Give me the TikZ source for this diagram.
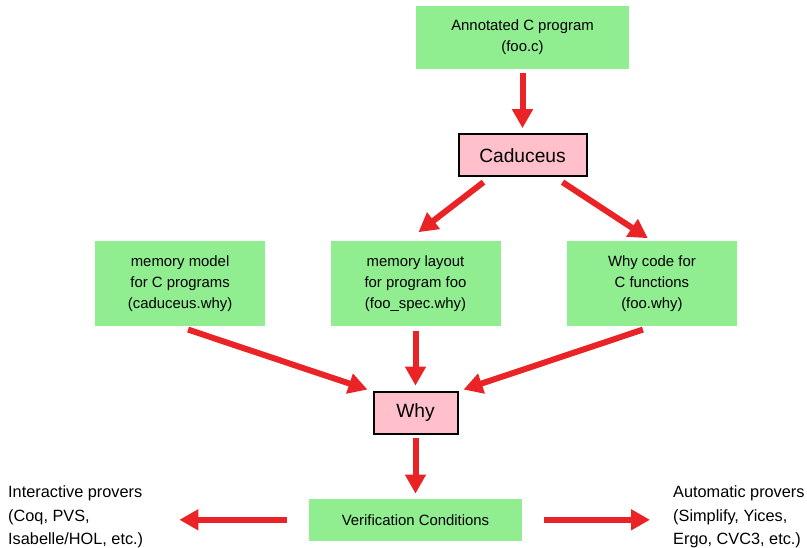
\documentclass[tikz,border=0pt]{standalone}
\usepackage{fontspec}
\setmainfont{Liberation Sans}
\usepackage{tikz}
\usetikzlibrary{calc}
\usetikzlibrary{arrows.meta,shapes}
\usetikzlibrary{positioning}
\definecolor{boxgreen}{RGB}{144,238,144}
\definecolor{boxpink}{RGB}{255,192,203}
\definecolor{flowred}{RGB}{234,36,38}
\newcommand{\boxfont}{\fontsize{14.9}{21}\selectfont}
\newcommand{\toolfont}{\fontsize{19.2}{23}\selectfont}
\newcommand{\proverfont}{\fontsize{16.3}{23.5}\selectfont}
\tikzset{
  filebox/.style={fill=boxgreen, align=center, inner sep=0pt, font=\boxfont},
  toolbox/.style={fill=boxpink, draw=black, line width=2pt, inner sep=0pt, font=\toolfont},
  prover/.style={align=left, inner sep=0pt, font=\proverfont},
  flow/.style={draw=flowred, line width=6pt, -{Triangle[length=19pt,width=20pt]}, flowred}
}

\begin{document}
\begin{tikzpicture}[x=1pt,y=1pt,node distance=64pt]
          \useasboundingbox (0,0) rectangle (807,548);
          \node[filebox, minimum width=213pt, minimum height=63pt] (ann) at (522.5,510.5)
            {Annotated C program\\(foo.c)};
          \node[toolbox, minimum width=128pt, minimum height=42pt, below=of ann] (cad) {Caduceus};
          \node[filebox, minimum width=170pt, minimum height=85pt, below=of cad, xshift=-107pt] (ml)
            {memory layout\\for program foo\\(foo\_spec.why)};
          \node[filebox, minimum width=170pt, minimum height=85pt, left=65pt of ml] (mm)
            {memory model\\for C programs\\(caduceus.why)};
          \node[filebox, minimum width=170pt, minimum height=85pt, right=66pt of ml] (wc)
            {Why code for\\C functions\\(foo.why)};
          \node[toolbox, minimum width=84pt, minimum height=42pt, below=of ml] (why) {Why};
          \node[filebox, minimum width=213pt, minimum height=42pt, below=of why] (vc)
            {Verification Conditions};
          \node[prover, anchor=west] (inter) at (8,31)
            {Interactive provers\\(Coq, PVS,\\Isabelle/HOL, etc.)};
          \node[prover, anchor=west] (auto) at (673,31)
            {Automatic provers\\(Simplify, Yices,\\Ergo, CVC3, etc.)};

          % arrows
          \draw[flow] ($(ann.south)+(0,-4)$) -- ($(cad.north)+(0,5)$);
          \draw[flow] ($(cad.south)+(-39,-5)$) -- ($(ml.north)+(3,9)$);
          \draw[flow] ($(cad.south)+(40,-5)$) -- ($(wc.north)+(-4,3)$);
          \draw[flow] ($(mm.south)+(8,-3)$) -- ($(why.north west)+(-5,1)$);
          \draw[flow] ($(ml.south)+(0,-4)$) -- ($(why.north)+(0,5)$);
          \draw[flow] ($(wc.south)+(-9,-3)$) -- ($(why.north east)+(5,1)$);
          \draw[flow] ($(why.south)+(0,-3)$) -- ($(vc.north)+(0,5)$);
          \draw[flow] ($(vc.west)+(-22,0)$) -- ($(inter.east |- vc.west)+(36,0)$);
          \draw[flow] ($(vc.east)+(22,0)$) -- ($(auto.west |- vc.east)+(-23,0)$);
        \end{tikzpicture}
\end{document}
